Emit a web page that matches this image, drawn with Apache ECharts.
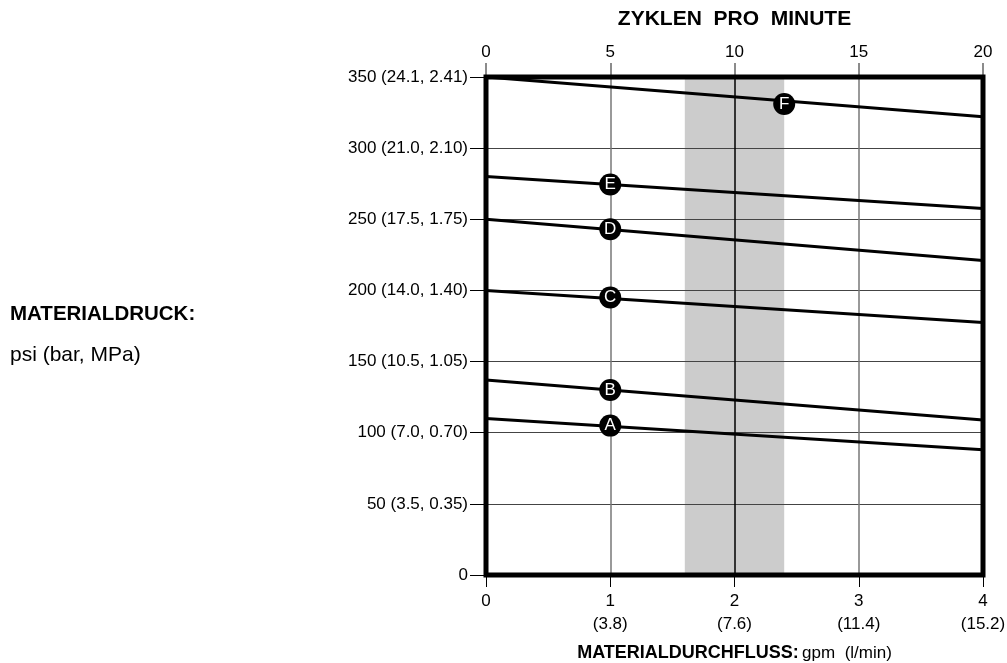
<!DOCTYPE html>
<html>
<head>
<meta charset="utf-8">
<script src="https://cdn.jsdelivr.net/npm/echarts@6/dist/echarts.min.js"></script>
<style>
html,body{margin:0;padding:0;background:#fff;}
#chart{width:1007px;height:663px;}
</style>
</head>
<body>
<div id="chart"></div>
<script>
// ---- data ----
var flowX = [0, 4];                 // gpm at line ends
var lineA = [110, 88];
var lineB = [137, 109];
var lineC = [200, 177.5];
var lineD = [250, 221];
var lineE = [280, 257.5];
var lineF = [350, 322];
var markerNames = ['A', 'B', 'C', 'D', 'E', 'F'];
var markerX = [1, 1, 1, 1, 1, 2.4];
var markerY = [105, 130, 195, 243, 274.5, 331];
var bandRange = [1.6, 2.4];         // gpm shaded range
var yTickValues = [0, 50, 100, 150, 200, 250, 300, 350];
var yTickLabels = ['0', '50 (3.5, 0.35)', '100 (7.0, 0.70)', '150 (10.5, 1.05)', '200 (14.0, 1.40)',
                   '250 (17.5, 1.75)', '300 (21.0, 2.10)', '350 (24.1, 2.41)'];
var xTickValues = [0, 1, 2, 3, 4];
var xTickLabels = ['0', '1\n(3.8)', '2\n(7.6)', '3\n(11.4)', '4\n(15.2)'];
var cycleTicks = [0, 5, 10, 15, 20];

var FONT = 'Liberation Sans, Arial, sans-serif';
function pairs(xs, ys) { return xs.map(function (x, i) { return [x, ys[i]]; }); }
var lineSeries = [lineA, lineB, lineC, lineD, lineE, lineF].map(function (ys) {
  return {
    type: 'line', xAxisIndex: 0, yAxisIndex: 0, data: pairs(flowX, ys),
    symbol: 'none', lineStyle: { color: '#000', width: 3 }, z: 3, silent: true
  };
});

var chart = echarts.init(document.getElementById('chart'), null, { renderer: 'canvas' });
chart.setOption({
  animation: false,
  backgroundColor: '#fff',
  textStyle: { fontFamily: FONT },
  grid: {
    left: 486, right: 24, top: 77, bottom: 88, containLabel: false, outerBoundsMode: 'none',
    show: true, borderWidth: 5, borderColor: '#000', backgroundColor: 'transparent', z: 4
  },
  xAxis: [
    {
      type: 'value', position: 'bottom', min: 0, max: 4, interval: 1,
      axisLine: { show: false },
      axisTick: { show: true, length: 12, lineStyle: { color: '#000', width: 1 } },
      axisLabel: {
        margin: 15, color: '#000', fontSize: 17, fontFamily: FONT, lineHeight: 23,
        formatter: function (v) { var i = xTickValues.indexOf(v); return i >= 0 ? xTickLabels[i] : ''; }
      },
      splitLine: { show: true, lineStyle: { color: ['#777', '#777', '#000', '#777', '#777'], width: 1.5 } },
      name: '{b|MATERIALDURCHFLUSS:} {n|gpm  (l/min)}',
      nameLocation: 'middle', nameGap: 69,
      nameTextStyle: {
        rich: {
          b: { fontWeight: 'bold', fontSize: 18, color: '#000', fontFamily: FONT },
          n: { fontSize: 17, color: '#000', fontFamily: FONT }
        }
      }
    },
    {
      type: 'value', position: 'top', min: 0, max: 20, interval: 5,
      axisLine: { show: false },
      axisTick: { show: true, length: 14, lineStyle: { color: '#666', width: 1.5 } },
      axisLabel: {
        margin: 16, color: '#000', fontSize: 17, fontFamily: FONT,
        formatter: function (v) { return cycleTicks.indexOf(v) >= 0 ? String(v) : ''; }
      },
      splitLine: { show: false },
      name: 'ZYKLEN  PRO  MINUTE',
      nameLocation: 'middle', nameGap: 47,
      nameTextStyle: { fontWeight: 'bold', fontSize: 21, color: '#000', fontFamily: FONT }
    }
  ],
  yAxis: {
    type: 'value', min: 0, max: 350, interval: 50,
    axisLine: { show: false },
    axisTick: { show: true, length: 16, lineStyle: { color: '#000', width: 1 } },
    axisLabel: {
      margin: 18, color: '#000', fontSize: 17, fontFamily: FONT,
      formatter: function (v) { var i = yTickValues.indexOf(v); return i >= 0 ? yTickLabels[i] : ''; }
    },
    splitLine: { show: true, lineStyle: { color: '#444', width: 1 } }
  },
  graphic: [
    { type: 'text', left: 10, top: 304, style: { text: 'MATERIALDRUCK:', font: 'bold 20.5px ' + FONT, fill: '#000' } },
    { type: 'text', left: 10, top: 345, style: { text: 'psi (bar, MPa)', font: '21px ' + FONT, fill: '#000' } }
  ],
  series: [
    {
      type: 'custom', xAxisIndex: 0, yAxisIndex: 0, z: -1, silent: true,
      data: [[bandRange[0], bandRange[1]]],
      renderItem: function (params, api) {
        var p0 = api.coord([api.value(0), 350]);
        var p1 = api.coord([api.value(1), 0]);
        return { type: 'rect', shape: { x: p0[0], y: p0[1], width: p1[0] - p0[0], height: p1[1] - p0[1] }, style: { fill: '#cccccc' } };
      }
    }
  ].concat(lineSeries).concat([
    {
      type: 'scatter', xAxisIndex: 0, yAxisIndex: 0, z: 5, silent: true,
      symbol: 'circle', symbolSize: 22,
      itemStyle: { color: '#000', opacity: 1 },
      data: markerNames.map(function (n, i) { return { value: [markerX[i], markerY[i]], name: n }; }),
      label: { show: true, position: 'inside', formatter: '{b}', color: '#fff', fontSize: 17, fontFamily: FONT }
    }
  ])
});
</script>
</body>
</html>
